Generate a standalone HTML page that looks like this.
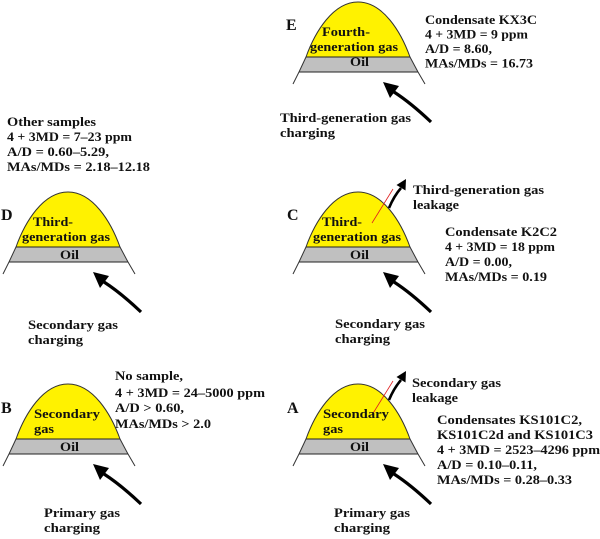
<!DOCTYPE html>
<html><head><meta charset="utf-8"><style>
html,body{margin:0;padding:0;background:#fff}
svg{display:block}
text{font-family:"Liberation Serif","Times New Roman",serif;font-weight:bold;font-size:13px;fill:#111}
.L{font-size:16px}
</style></head><body>
<svg width="600" height="539" viewBox="0 0 600 539" xmlns="http://www.w3.org/2000/svg">
<defs>
<clipPath id="cp"><path d="M0,82 L6,70 L13,55 C22,30 40,0 65,0 C90,0 108,30 117,55 L125,70 L132,82 Z"/></clipPath>
<g id="dome">
<g clip-path="url(#cp)">
<rect x="0" y="-2" width="132" height="57" fill="#fff200"/>
<rect x="0" y="55" width="132" height="15" fill="#c0c0c0"/>
</g>
<line x1="13" y1="55" x2="117" y2="55" stroke="#222" stroke-width="1"/>
<line x1="6" y1="70" x2="125" y2="70" stroke="#222" stroke-width="1"/>
<path d="M0,82 L6,70 L13,55 C22,30 40,0 65,0 C90,0 108,30 117,55 L125,70 L132,82" fill="none" stroke="#333" stroke-width="1"/>
</g>
<g id="charge">
<path d="M138,120 Q118,101 101,90" fill="none" stroke="#000" stroke-width="3.2"/>
<polygon points="90,80 106,84 97,96" fill="#000"/>
</g>
<g id="leak">
<line x1="79" y1="31" x2="100" y2="-3" stroke="#e02020" stroke-width="0.8"/>
<path d="M96,16 Q101,4 108,-4" fill="none" stroke="#000" stroke-width="2.6"/>
<polygon points="113,-13 112.5,-1.5 103.5,-7" fill="#000"/>
</g>
</defs>

<!-- E -->
<use href="#dome" x="293" y="2"/>
<use href="#charge" x="293" y="2"/>
<text class="L" x="286" y="30">E</text>
<text x="322" y="36" textLength="48" lengthAdjust="spacingAndGlyphs">Fourth-</text>
<text x="310" y="51" textLength="88" lengthAdjust="spacingAndGlyphs">generation gas</text>
<text x="350" y="66" textLength="19" lengthAdjust="spacingAndGlyphs">Oil</text>
<text x="425" y="24" textLength="112" lengthAdjust="spacingAndGlyphs">Condensate KX3C</text>
<text x="425" y="38.5" textLength="103" lengthAdjust="spacingAndGlyphs">4 + 3MD = 9 ppm</text>
<text x="425" y="53" textLength="67" lengthAdjust="spacingAndGlyphs">A/D = 8.60,</text>
<text x="425" y="67.5" textLength="108" lengthAdjust="spacingAndGlyphs">MAs/MDs = 16.73</text>
<text x="280" y="122" textLength="131" lengthAdjust="spacingAndGlyphs">Third-generation gas</text>
<text x="280" y="137" textLength="55" lengthAdjust="spacingAndGlyphs">charging</text>

<!-- Other samples -->
<text x="7" y="126" textLength="89" lengthAdjust="spacingAndGlyphs">Other samples</text>
<text x="7" y="141" textLength="125" lengthAdjust="spacingAndGlyphs">4 + 3MD = 7–23 ppm</text>
<text x="7" y="156" textLength="102" lengthAdjust="spacingAndGlyphs">A/D = 0.60–5.29,</text>
<text x="7" y="171" textLength="143" lengthAdjust="spacingAndGlyphs">MAs/MDs = 2.18–12.18</text>

<!-- D -->
<use href="#dome" x="3" y="192"/>
<use href="#charge" x="3" y="192"/>
<text class="L" x="1" y="220">D</text>
<text x="33" y="226" textLength="40" lengthAdjust="spacingAndGlyphs">Third-</text>
<text x="22" y="241" textLength="88" lengthAdjust="spacingAndGlyphs">generation gas</text>
<text x="60" y="259" textLength="19" lengthAdjust="spacingAndGlyphs">Oil</text>
<text x="28" y="329" textLength="90" lengthAdjust="spacingAndGlyphs">Secondary gas</text>
<text x="28" y="344" textLength="55" lengthAdjust="spacingAndGlyphs">charging</text>

<!-- C -->
<use href="#dome" x="293" y="192"/>
<use href="#charge" x="293" y="192"/>
<use href="#leak" x="293" y="192"/>
<text class="L" x="287" y="220">C</text>
<text x="322" y="226" textLength="40" lengthAdjust="spacingAndGlyphs">Third-</text>
<text x="313" y="241" textLength="88" lengthAdjust="spacingAndGlyphs">generation gas</text>
<text x="350" y="259" textLength="19" lengthAdjust="spacingAndGlyphs">Oil</text>
<text x="413" y="194" textLength="131" lengthAdjust="spacingAndGlyphs">Third-generation gas</text>
<text x="413" y="209" textLength="46" lengthAdjust="spacingAndGlyphs">leakage</text>
<text x="445" y="236" textLength="112" lengthAdjust="spacingAndGlyphs">Condensate K2C2</text>
<text x="445" y="251" textLength="110" lengthAdjust="spacingAndGlyphs">4 + 3MD = 18 ppm</text>
<text x="445" y="266" textLength="67" lengthAdjust="spacingAndGlyphs">A/D = 0.00,</text>
<text x="445" y="281" textLength="102" lengthAdjust="spacingAndGlyphs">MAs/MDs = 0.19</text>
<text x="335" y="328" textLength="90" lengthAdjust="spacingAndGlyphs">Secondary gas</text>
<text x="335" y="343" textLength="55" lengthAdjust="spacingAndGlyphs">charging</text>

<!-- B -->
<use href="#dome" x="3" y="384"/>
<use href="#charge" x="3" y="384"/>
<text class="L" x="1" y="413">B</text>
<text x="34" y="418" textLength="66" lengthAdjust="spacingAndGlyphs">Secondary</text>
<text x="34" y="433" textLength="20" lengthAdjust="spacingAndGlyphs">gas</text>
<text x="60" y="451" textLength="19" lengthAdjust="spacingAndGlyphs">Oil</text>
<text x="115" y="380" textLength="68" lengthAdjust="spacingAndGlyphs">No sample,</text>
<text x="115" y="397" textLength="150" lengthAdjust="spacingAndGlyphs">4 + 3MD = 24–5000 ppm</text>
<text x="115" y="412" textLength="69" lengthAdjust="spacingAndGlyphs">A/D &gt; 0.60,</text>
<text x="115" y="428" textLength="96" lengthAdjust="spacingAndGlyphs">MAs/MDs &gt; 2.0</text>
<text x="44" y="517" textLength="76" lengthAdjust="spacingAndGlyphs">Primary gas</text>
<text x="44" y="532" textLength="56" lengthAdjust="spacingAndGlyphs">charging</text>

<!-- A -->
<use href="#dome" x="293" y="384"/>
<use href="#charge" x="293" y="384"/>
<use href="#leak" x="293" y="384"/>
<text class="L" x="287" y="413">A</text>
<text x="323" y="418" textLength="66" lengthAdjust="spacingAndGlyphs">Secondary</text>
<text x="323" y="433" textLength="20" lengthAdjust="spacingAndGlyphs">gas</text>
<text x="350" y="451" textLength="19" lengthAdjust="spacingAndGlyphs">Oil</text>
<text x="412" y="387" textLength="89" lengthAdjust="spacingAndGlyphs">Secondary gas</text>
<text x="412" y="402" textLength="46" lengthAdjust="spacingAndGlyphs">leakage</text>
<text x="437" y="424" textLength="145" lengthAdjust="spacingAndGlyphs">Condensates KS101C2,</text>
<text x="437" y="439" textLength="156" lengthAdjust="spacingAndGlyphs">KS101C2d and KS101C3</text>
<text x="437" y="454" textLength="163" lengthAdjust="spacingAndGlyphs">4 + 3MD = 2523–4296 ppm</text>
<text x="437" y="469" textLength="100" lengthAdjust="spacingAndGlyphs">A/D = 0.10–0.11,</text>
<text x="437" y="484" textLength="135" lengthAdjust="spacingAndGlyphs">MAs/MDs = 0.28–0.33</text>
<text x="334" y="517" textLength="76" lengthAdjust="spacingAndGlyphs">Primary gas</text>
<text x="334" y="532" textLength="56" lengthAdjust="spacingAndGlyphs">charging</text>
</svg>
</body></html>
